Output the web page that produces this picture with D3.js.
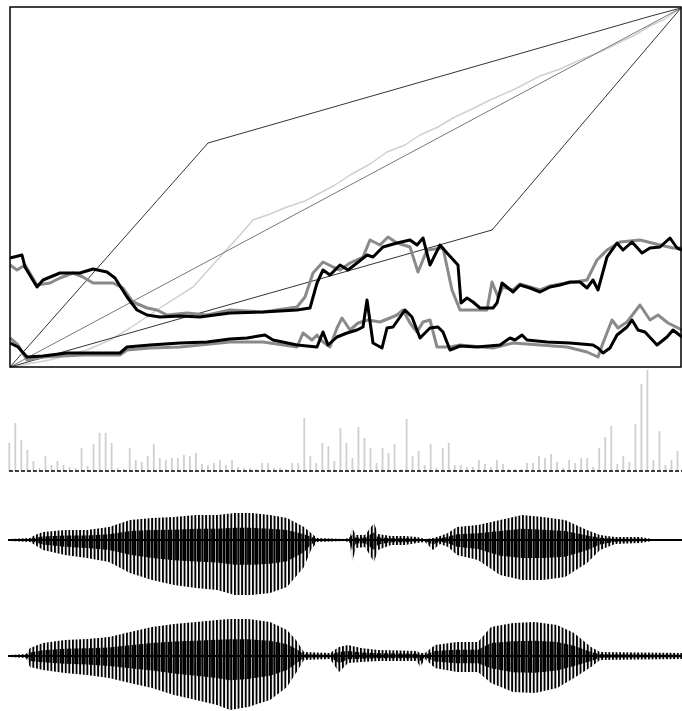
<!DOCTYPE html>
<html>
<head>
<meta charset="utf-8">
<script src="https://cdn.jsdelivr.net/npm/d3@7"></script>
<style>
  body { margin: 0; background: #fff; }
  svg { display: block; }
</style>
</head>
<body>
<svg id="chart" width="682" height="711"></svg>
<script>
"use strict";

// alignment plot: test frame (x) vs reference frame (y)
const diagonal = [[0, 0], [671, 359]];
const upperBound = [[0, 0], [198, 224], [641, 351], [671, 359]];
const lowerBound = [[0, 0], [482, 137], [671, 359]];
const warpPath = [[0, 0], [40, 7], [77, 17], [100, 27], [120, 39], [150, 59], [183, 80], [210, 110],
    [230, 132], [243, 147], [260, 153], [277, 160], [295, 166], [310, 174], [325, 182], [340, 192],
    [360, 203], [377, 215], [395, 222], [410, 232], [428, 240], [443, 249], [460, 257], [480, 267],
    [505, 278], [530, 291], [550, 298], [570, 307], [590, 315], [610, 325], [625, 332], [640, 341],
    [655, 348], [671, 359]];

// feature tracks (black = test, gray = reference warped)
const upperBlack = [[0, 109], [12, 112], [15, 100], [27, 80], [33, 87], [50, 94], [70, 94], [83, 98],
    [97, 95], [105, 89], [117, 70], [127, 57], [137, 52], [150, 50], [170, 51], [190, 50], [220, 54],
    [253, 55], [287, 57], [300, 59], [307, 84], [313, 97], [320, 92], [330, 102], [338, 97], [347, 104],
    [357, 112], [363, 110], [373, 120], [387, 124], [400, 127], [407, 122], [413, 129], [420, 102],
    [430, 122], [437, 114], [448, 102], [451, 64], [457, 69], [463, 65], [470, 59], [483, 59], [487, 64],
    [492, 84], [503, 75], [510, 82], [520, 79], [530, 75], [540, 80], [550, 82], [560, 85], [570, 85],
    [577, 79], [583, 87], [588, 77], [597, 110], [607, 124], [613, 117], [622, 125], [632, 114],
    [640, 119], [650, 120], [660, 129], [667, 119], [672, 117]];
const upperGray = [[0, 102], [7, 97], [15, 102], [27, 82], [40, 84], [50, 89], [63, 94], [73, 90],
    [83, 84], [103, 84], [113, 79], [123, 65], [137, 59], [147, 57], [157, 52], [177, 54], [197, 52],
    [220, 57], [253, 55], [287, 60], [295, 70], [303, 94], [313, 105], [323, 100], [330, 97], [340, 104],
    [353, 110], [360, 127], [370, 122], [378, 130], [387, 124], [400, 120], [408, 95], [417, 117],
    [433, 119], [442, 77], [450, 57], [477, 57], [482, 85], [488, 70], [493, 80], [503, 77], [510, 83],
    [520, 80], [530, 77], [540, 81], [550, 83], [565, 85], [577, 87], [587, 107], [597, 117], [610, 125],
    [630, 127], [650, 122], [663, 119], [672, 119]];
const lowerBlack = [[0, 24], [8, 20], [17, 10], [33, 11], [57, 14], [90, 14], [110, 14], [117, 20],
    [140, 22], [170, 24], [197, 25], [220, 28], [237, 29], [255, 32], [263, 27], [287, 22], [307, 20],
    [313, 35], [318, 22], [327, 30], [337, 34], [347, 37], [353, 40], [357, 67], [363, 24], [372, 19],
    [377, 39], [383, 40], [395, 57], [402, 50], [410, 29], [420, 39], [428, 40], [433, 35], [440, 17],
    [450, 21], [467, 20], [490, 22], [500, 29], [505, 27], [512, 32], [517, 27], [537, 25], [560, 24],
    [583, 22], [588, 19], [593, 14], [600, 19], [607, 32], [617, 40], [622, 47], [628, 37], [635, 35],
    [647, 22], [657, 30], [663, 37], [672, 30]];
const lowerGray = [[0, 29], [8, 22], [17, 7], [33, 10], [73, 12], [110, 12], [117, 17], [140, 19],
    [170, 20], [220, 25], [253, 25], [287, 20], [293, 34], [302, 27], [307, 32], [313, 25], [320, 20],
    [327, 39], [332, 49], [340, 37], [348, 44], [358, 47], [370, 45], [380, 49], [387, 52], [393, 57],
    [400, 44], [407, 35], [413, 45], [420, 47], [427, 20], [440, 20], [450, 22], [483, 19], [503, 24],
    [557, 20], [577, 15], [588, 10], [593, 24], [602, 47], [608, 39], [617, 45], [630, 62], [640, 47],
    [648, 52], [658, 44], [672, 37]];

// local distance per frame
const distValues = [28, 48, 31, 21, 10, 3, 15, 6, 10, 6, 4, 3, 23, 5, 27, 38, 38, 28, 3, 2, 23, 11, 9, 15,
    27, 13, 11, 13, 13, 16, 15, 18, 7, 6, 8, 11, 6,
    11, 4, 3, 3, 2, 8, 8, 3, 3, 2, 8, 8, 53, 15, 8, 28, 25, 10, 43, 28, 13, 44, 33, 23, 8, 23, 18, 27, 2,
    52, 15, 20, 6, 27, 3, 23, 28, 6,
    6, 4, 4, 11, 7, 4, 11, 7, 2, 2, 2, 8, 8, 15, 13, 17, 9, 3, 11, 8, 13, 13, 4, 23, 34, 45, 7, 15, 9,
    47, 87, 101, 11, 40, 6, 11, 20];

// waveform envelopes: [time, upper, lower]
const waveTest = [[0, 1, -1], [20, 2, -2], [25, 5, -5], [33, 8, -10], [55, 10, -15], [77, 10, -18],
    [99, 13, -22], [120, 20, -33], [142, 22, -40], [164, 23, -45], [186, 25, -48], [207, 25, -50],
    [225, 27, -55], [242, 27, -55], [260, 25, -53], [277, 22, -47], [294, 13, -27], [301, 7, -10],
    [307, 2, -2], [335, 1, -1], [340, 3, -3], [342, 12, -22], [346, 5, -8], [355, 5, -7], [364, 17, -22],
    [368, 6, -10], [381, 4, -5], [395, 4, -5], [407, 3, -3], [415, 1, -2], [423, 2, -10], [430, 4, -4],
    [438, 7, -7], [447, 13, -15], [468, 15, -20], [490, 20, -35], [512, 25, -40], [533, 23, -40],
    [555, 20, -37], [577, 10, -23], [590, 5, -10], [605, 3, -4], [630, 3, -3], [642, 1, -1], [672, 1, -1]];
const waveRef = [[0, 1, -1], [16, 2, -2], [20, 8, -11], [33, 13, -14], [55, 16, -17], [77, 17, -19],
    [99, 19, -22], [120, 24, -27], [142, 29, -32], [164, 32, -39], [186, 34, -44], [207, 36, -49],
    [220, 37, -54], [238, 37, -51], [260, 34, -44], [277, 26, -31], [286, 16, -17], [294, 4, -4],
    [320, 3, -3], [329, 9, -16], [338, 11, -7], [351, 8, -6], [368, 6, -5], [407, 5, -5], [410, 3, -11],
    [415, 3, -3], [425, 11, -12], [447, 14, -16], [468, 14, -16], [481, 29, -27], [503, 33, -36],
    [525, 34, -37], [547, 31, -32], [564, 23, -22], [581, 9, -11], [590, 4, -4], [672, 3, -3]];

const svg = d3.select("#chart");
svg.append("rect").attr("width", 682).attr("height", 711).attr("fill", "#fff");

// striped fills to mimic dense pitch pulses
const defs = svg.append("defs");
const pat = defs.append("pattern")
    .attr("id", "pulses")
    .attr("patternUnits", "userSpaceOnUse")
    .attr("width", 3.6).attr("height", 10);
pat.append("rect").attr("width", 1.9).attr("height", 10).attr("fill", "#000");
const core = defs.append("pattern")
    .attr("id", "core")
    .attr("patternUnits", "userSpaceOnUse")
    .attr("width", 2.4).attr("height", 10);
core.append("rect").attr("width", 1.8).attr("height", 10).attr("fill", "#000");

// ---- top panel ----
const xScale = d3.scaleLinear().domain([0, 671]).range([10, 681]);
const yScale = d3.scaleLinear().domain([0, 360]).range([367, 7]);
const line = d3.line().x(d => xScale(d[0])).y(d => yScale(d[1]));

function drawPath(data, color, width) {
    svg.append("path")
        .datum(data)
        .attr("d", line)
        .attr("fill", "none")
        .attr("stroke", color)
        .attr("stroke-width", width)
        .attr("stroke-linejoin", "round");
}

drawPath(warpPath, "#d0d0d0", 1.5);
drawPath(diagonal, "#777", 1);
drawPath(upperBound, "#333", 1);
drawPath(lowerBound, "#333", 1);
drawPath(upperGray, "#8a8a8a", 3);
drawPath(lowerGray, "#8a8a8a", 3);
drawPath(upperBlack, "#000", 3);
drawPath(lowerBlack, "#000", 3);

svg.append("rect")
    .attr("x", xScale(0)).attr("y", yScale(360))
    .attr("width", xScale(671) - xScale(0))
    .attr("height", yScale(0) - yScale(360))
    .attr("fill", "none").attr("stroke", "#000").attr("stroke-width", 1.5);

// ---- distance bars ----
const barX = d3.scaleLinear().domain([0, distValues.length - 1]).range([9.3, 677.5]);
const barY = d3.scaleLinear().domain([0, 101]).range([471, 370]);

svg.append("g").selectAll("line")
    .data(distValues)
    .join("line")
    .attr("x1", (d, i) => barX(i)).attr("x2", (d, i) => barX(i))
    .attr("y1", barY(0)).attr("y2", d => barY(d))
    .attr("stroke", "#cfcfcf").attr("stroke-width", 1.8);

svg.append("line")
    .attr("x1", 9).attr("x2", 682)
    .attr("y1", barY(0)).attr("y2", barY(0))
    .attr("stroke", "#000").attr("stroke-width", 1.5)
    .attr("stroke-dasharray", "4,2");

// ---- waveforms ----
const tScale = d3.scaleLinear().domain([0, 672]).range([10, 682]);

function drawWave(env, center) {
    const aScale = d3.scaleLinear().domain([-100, 100]).range([center + 100, center - 100]);
    const area = k => d3.area()
        .x(d => tScale(d[0]))
        .y0(d => aScale(d[2] * k))
        .y1(d => aScale(d[1] * k));
    svg.append("path")
        .datum(env)
        .attr("d", area(1))
        .attr("fill", "url(#pulses)");
    // denser band near the zero line
    svg.append("path")
        .datum(env)
        .attr("d", area(0.45))
        .attr("fill", "url(#core)");
    svg.append("line")
        .attr("x1", tScale(-2)).attr("x2", tScale(672))
        .attr("y1", aScale(0)).attr("y2", aScale(0))
        .attr("stroke", "#000").attr("stroke-width", 2);
}

drawWave(waveTest, 540);
drawWave(waveRef, 656);
</script>
</body>
</html>
